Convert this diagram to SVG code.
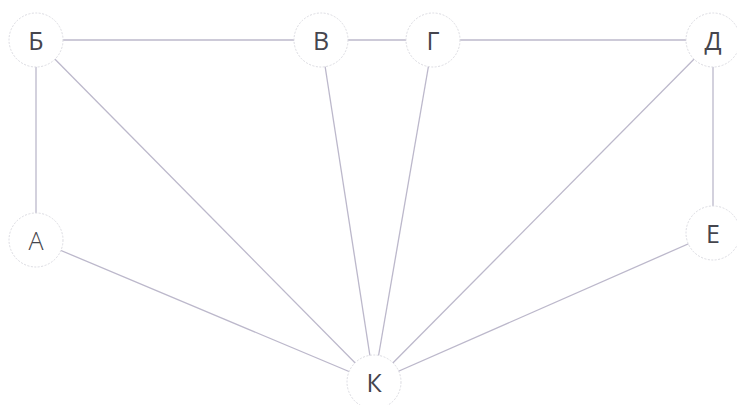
<svg xmlns="http://www.w3.org/2000/svg" width="737" height="405" viewBox="0 0 737 405">
<style>
.e{stroke:#bcb8cb;stroke-width:1.3;fill:none}
.n circle{fill:#fff;stroke:#dcdce2;stroke-width:1;stroke-dasharray:2 1.5}
.n text{font-family:"Open Sans","DejaVu Sans",sans-serif;font-size:25px;fill:#45454d;text-anchor:middle;dominant-baseline:central}
</style>
<rect width="737" height="405" fill="#fff"/>
<g id="edges">
<line class="e" x1="36" y1="40" x2="321" y2="40"/>
<line class="e" x1="321" y1="40" x2="433" y2="40"/>
<line class="e" x1="433" y1="40" x2="713" y2="40"/>
<line class="e" x1="36" y1="40" x2="36" y2="240"/>
<line class="e" x1="36" y1="40" x2="374" y2="382"/>
<line class="e" x1="321" y1="40" x2="374" y2="382"/>
<line class="e" x1="433" y1="40" x2="374" y2="382"/>
<line class="e" x1="713" y1="40" x2="374" y2="382"/>
<line class="e" x1="713" y1="40" x2="713" y2="233"/>
<line class="e" x1="36" y1="240" x2="374" y2="382"/>
<line class="e" x1="713" y1="233" x2="374" y2="382"/>
</g>
<g id="node-B" class="n"><circle cx="36" cy="40" r="27"/><text x="36" y="40">Б</text></g>
<g id="node-V" class="n"><circle cx="321" cy="40" r="27"/><text x="321" y="40">В</text></g>
<g id="node-G" class="n"><circle cx="433" cy="40" r="27"/><text x="433" y="40">Г</text></g>
<g id="node-D" class="n"><circle cx="713" cy="40" r="27"/><text x="713" y="40">Д</text></g>
<g id="node-A" class="n"><circle cx="36" cy="240" r="27"/><text x="36" y="240" style="font-weight:300">А</text></g>
<g id="node-E" class="n"><circle cx="713" cy="233" r="27"/><text x="713" y="233">Е</text></g>
<g id="node-K" class="n"><circle cx="374" cy="382" r="27"/><text x="374" y="382">К</text></g>
</svg>
